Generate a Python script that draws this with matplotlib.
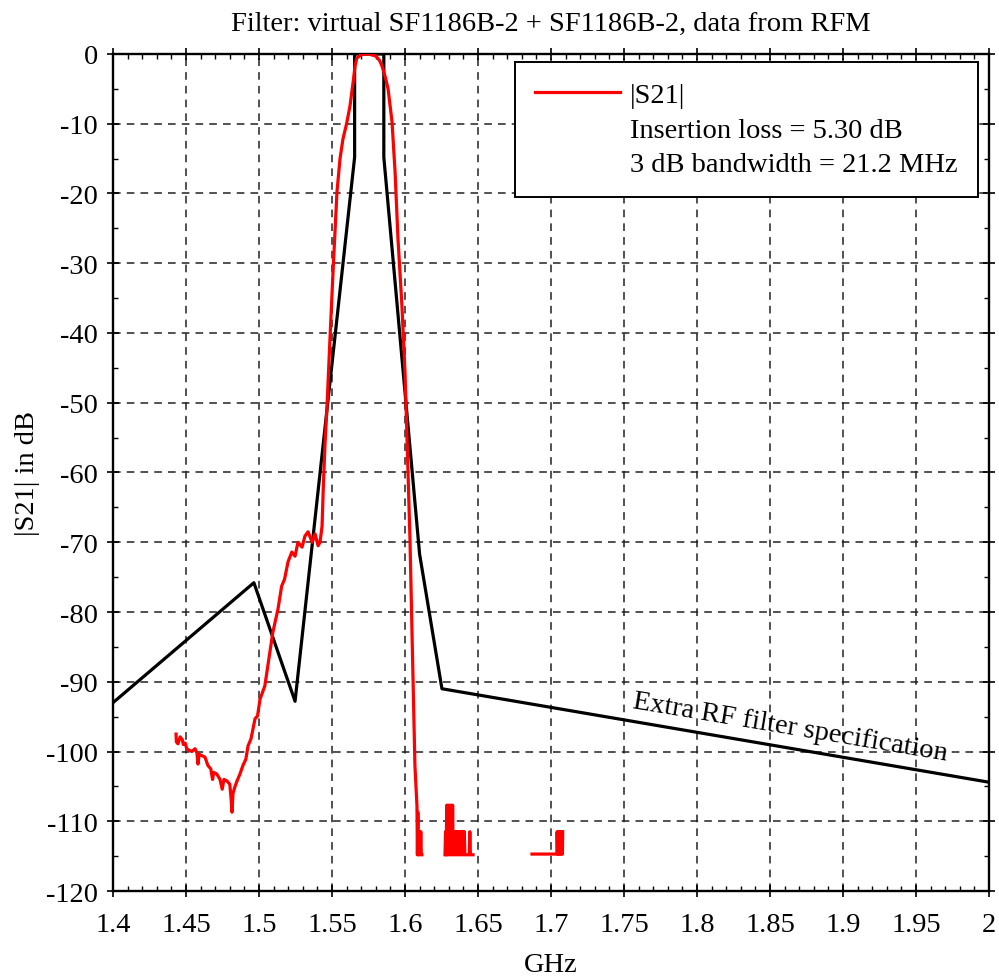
import numpy as np
import matplotlib
matplotlib.use("Agg")
import matplotlib.pyplot as plt
from matplotlib.lines import Line2D

plt.rcParams['font.family'] = ['Liberation Serif', 'DejaVu Serif']
plt.rcParams['axes.unicode_minus'] = False

nan = np.nan

s21_f = [1.4432, 1.4434, 1.4445, 1.4460, 1.4475, 1.4482, 1.4495, 1.4505, 1.4520,
         1.4540, 1.4562, 1.4575, 1.4582, 1.4590, 1.4610, 1.4630, 1.4650, 1.4670,
         1.4682, 1.4690, 1.4710, 1.4733, 1.4748, 1.4760, 1.4780, 1.4800, 1.4808,
         1.4815, 1.4822, 1.4836, 1.4850, 1.4870, 1.4890, 1.4910, 1.4925, 1.4945,
         1.4973, 1.4990, 1.5007, 1.5040, 1.5075, 1.5095, 1.5130, 1.5155, 1.5175,
         1.5199, 1.5225, 1.5247, 1.5267, 1.5295, 1.5315, 1.5336, 1.5364, 1.5384,
         1.5405, 1.5418, 1.5432, 1.5440, 1.5452, 1.5466, 1.5486, 1.5507, 1.5534,
         1.5555, 1.5575, 1.5600, 1.5623, 1.5645, 1.5658, 1.5670, 1.5700, 1.5750,
         1.5800, 1.5825, 1.5842, 1.5865, 1.5884, 1.5911, 1.5932, 1.5952, 1.5979,
         1.6000, 1.6014, 1.6034, 1.6048, 1.6068, 1.6082,
         1.6085, 1.6088, 1.6091, 1.6094, 1.6097, 1.6100, 1.6104, 1.6108, 1.6112, 1.6116,
         nan,
         1.6274, 1.6278, 1.6282, 1.6286, 1.6290, 1.6294, 1.6298, 1.6302, 1.6306,
         1.6310, 1.6314, 1.6318, 1.6322, 1.6326, 1.6330, 1.6334, 1.6338, 1.6342,
         1.6346, 1.6350, 1.6354, 1.6358, 1.6362, 1.6366, 1.6370, 1.6374, 1.6378,
         1.6382, 1.6386, 1.6390, 1.6394, 1.6398, 1.6402, 1.6406, 1.6410, 1.6420,
         1.6430, 1.6440, 1.6444, 1.6448, 1.6455, 1.6466,
         nan,
         1.6870, 1.7020, 1.7040, 1.7042, 1.7046, 1.7050, 1.7054, 1.7058, 1.7062,
         1.7066, 1.7070, 1.7074, 1.7078, 1.7080]
s21_db = [-97.5, -98.6, -98.9, -97.9, -98.3, -99.0, -98.8, -99.6, -99.8,
          -100.0, -99.6, -100.2, -101.8, -100.4, -100.6, -100.8, -102.0, -102.5,
          -104.0, -103.0, -103.2, -104.0, -105.4, -104.0, -104.2, -104.7, -106.5,
          -108.7, -106.0, -105.0, -104.2, -103.2, -102.0, -101.1, -99.2, -98.2,
          -95.3, -94.9, -92.5, -90.6, -85.7, -82.9, -79.6, -76.3, -75.3,
          -72.8, -71.4, -72.0, -70.0, -70.7, -69.1, -68.5, -70.0, -68.8,
          -70.5, -70.0, -67.7, -62.4, -56.0, -50.5, -40.9, -31.3, -19.8,
          -15.0, -12.2, -10.0, -7.5, -4.0, -1.7, -0.6, -0.1, 0.0,
          -0.3, -0.9, -1.7, -3.3, -5.0, -9.7, -16.9, -26.5, -36.1,
          -45.6, -55.2, -69.5, -82.9, -102.0, -107.8,
          -114.8, -108.7, -114.8, -111.5, -114.8, -111.5, -114.8, -111.5, -114.8, -114.8,
          nan,
          -114.8, -111.5, -114.8, -107.7, -114.8, -107.7, -114.8, -107.7, -114.8,
          -107.7, -114.8, -107.7, -114.8, -107.7, -114.8, -111.5, -114.8, -111.5,
          -114.8, -111.5, -114.8, -111.5, -114.8, -111.5, -114.8, -111.5, -114.8,
          -111.5, -114.8, -111.5, -114.8, -111.5, -114.8, -111.5, -114.8, -114.8,
          -114.8, -114.8, -111.5, -114.8, -114.8, -114.8,
          nan,
          -114.7, -114.7, -114.7, -111.5, -114.7, -111.5, -114.7, -111.5, -114.7,
          -111.5, -114.7, -111.5, -114.7, -111.5]

# spec mask (GHz, dB)
spec_f = [1.4, 1.4965, 1.5247, 1.5655, 1.5655, 1.5855, 1.5855, 1.6100, 1.6253, 2.0]
spec_db = [-93.0, -75.8, -92.8, -14.8, 0.0, 0.0, -14.8, -71.7, -91.0, -104.4]

x_ticks = [1.4, 1.45, 1.5, 1.55, 1.6, 1.65, 1.7, 1.75, 1.8, 1.85, 1.9, 1.95, 2.0]
x_labels = ['1.4', '1.45', '1.5', '1.55', '1.6', '1.65', '1.7', '1.75', '1.8',
            '1.85', '1.9', '1.95', '2']
y_ticks = list(range(0, -121, -10))

fs = 20.5

fig = plt.figure(figsize=(9.99, 9.78), dpi=100)
ax = fig.add_axes([0.1131, 0.0879, 0.8769, 0.8559])

ax.plot(spec_f, spec_db, color='black', lw=2.3, zorder=3)
ax.plot(s21_f, s21_db, color='#ff0000', lw=2.3, zorder=4)

ax.set_xlim(1.4, 2.0)
ax.set_ylim(-120, 0)
ax.set_xticks(x_ticks)
ax.set_xticklabels(x_labels)
ax.set_yticks(y_ticks)
ax.set_yticklabels([str(v) for v in y_ticks])
ax.set_xticks(np.arange(1.4, 2.0001, 0.01), minor=True)
ax.set_yticks(np.arange(-120, 0.1, 5), minor=True)

ax.tick_params(which='major', direction='inout', length=8, width=1.2,
               labelsize=fs, top=True, right=True)
ax.tick_params(axis='x', which='major', pad=11)
ax.tick_params(axis='y', which='major', pad=7)
ax.tick_params(which='minor', direction='in', length=3.5, width=1.0,
               top=True, right=True)
for sp in ax.spines.values():
    sp.set_linewidth(1.7)

ax.grid(True, which='major', color='#222222', lw=1.1, linestyle=(0, (5, 4)))
ax.set_axisbelow(True)

ax.set_title('Filter: virtual SF1186B-2 + SF1186B-2, data from RFM', fontsize=fs, pad=17)
ax.set_xlabel('GHz', fontsize=fs, labelpad=11)
ax.set_ylabel('|S21| in dB', fontsize=fs, labelpad=4)

handles = [Line2D([], [], color='#ff0000', lw=2.3),
           Line2D([], [], color='none'),
           Line2D([], [], color='none')]
labels = ['|S21|', 'Insertion loss = 5.30 dB', '3 dB bandwidth = 21.2 MHz']
leg = ax.legend(handles, labels, loc='upper right', bbox_to_anchor=(0.987, 0.99),
                fontsize=fs, handlelength=3.0, handletextpad=0.35, labelspacing=0.3,
                borderpad=0.7, borderaxespad=0, fancybox=False, framealpha=1,
                edgecolor='black')
leg.get_frame().set_linewidth(1.4)

ax.text(1.7555, -93.6, 'Extra RF filter specification', fontsize=fs,
        rotation=-9.5, rotation_mode='anchor', ha='left', va='baseline', zorder=5)

fig.savefig('out.png', dpi=100)
